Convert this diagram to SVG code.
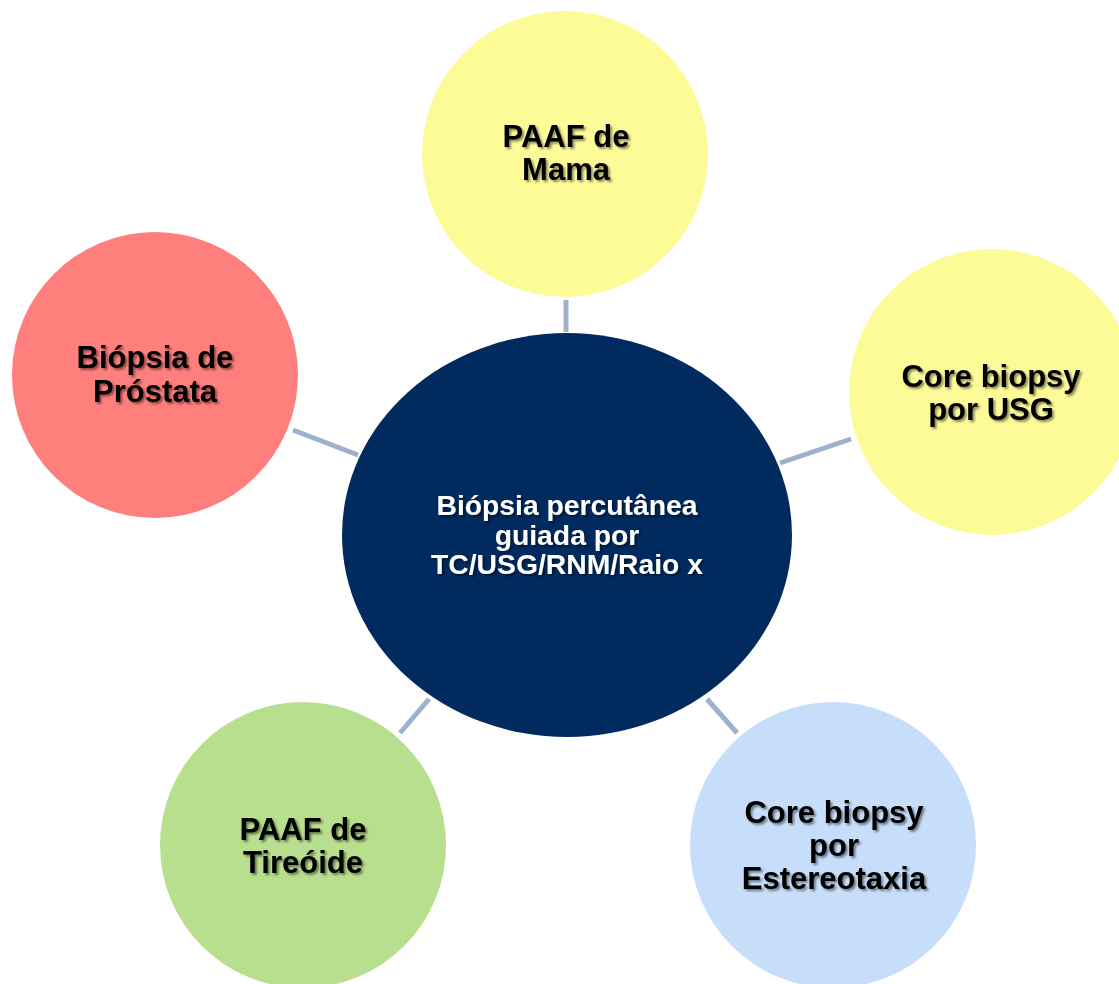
<svg xmlns="http://www.w3.org/2000/svg" width="1119" height="984" viewBox="0 0 1119 984">
<defs>
<filter id="sh" x="-10%" y="-20%" width="130%" height="150%">
<feDropShadow dx="2" dy="2" stdDeviation="1" flood-color="#000" flood-opacity="0.45"/>
</filter>
</defs>
<style>
.lbl{font-family:"Liberation Sans",Arial,sans-serif;font-weight:bold;font-size:31px;text-anchor:middle;fill:#000;filter:url(#sh)}
.wl{fill:#fff;font-size:28.3px}
.con{stroke:#9DB2CA;stroke-width:5;fill:none}
</style>
<rect width="1119" height="984" fill="#fff"/>
<g id="connectors">
<line class="con" x1="566" y1="300" x2="566" y2="332"/>
<line class="con" x1="780" y1="463" x2="851" y2="439"/>
<line class="con" x1="293" y1="430" x2="358" y2="455"/>
<line class="con" x1="400" y1="733" x2="429" y2="699"/>
<line class="con" x1="707" y1="699" x2="737" y2="733"/>
</g>
<g id="center">
<ellipse cx="567" cy="535" rx="225" ry="202" fill="#012A5E"/>
<text class="lbl wl"><tspan x="567" y="515">Biópsia percutânea</tspan><tspan x="567" y="545">guiada por</tspan><tspan x="567" y="574">TC/USG/RNM/Raio x</tspan></text>
</g>
<g id="paaf-mama">
<circle cx="565" cy="154" r="143" fill="#FDFB98"/>
<text class="lbl"><tspan x="566" y="147">PAAF de</tspan><tspan x="566" y="180">Mama</tspan></text>
</g>
<g id="core-usg">
<circle cx="992" cy="392" r="143" fill="#FDFB98"/>
<text class="lbl"><tspan x="991" y="387">Core biopsy</tspan><tspan x="991" y="420">por USG</tspan></text>
</g>
<g id="biopsia-prostata">
<circle cx="155" cy="375" r="143" fill="#FE7F7C"/>
<text class="lbl"><tspan x="155" y="368">Biópsia de</tspan><tspan x="155" y="402">Próstata</tspan></text>
</g>
<g id="paaf-tireoide">
<circle cx="303" cy="845" r="143" fill="#B8DF8E"/>
<text class="lbl"><tspan x="303" y="840">PAAF de</tspan><tspan x="303" y="873">Tireóide</tspan></text>
</g>
<g id="core-estereotaxia">
<circle cx="833" cy="845" r="143" fill="#C6DEFA"/>
<text class="lbl"><tspan x="834" y="823">Core biopsy</tspan><tspan x="834" y="856">por</tspan><tspan x="834" y="889">Estereotaxia</tspan></text>
</g>
</svg>
